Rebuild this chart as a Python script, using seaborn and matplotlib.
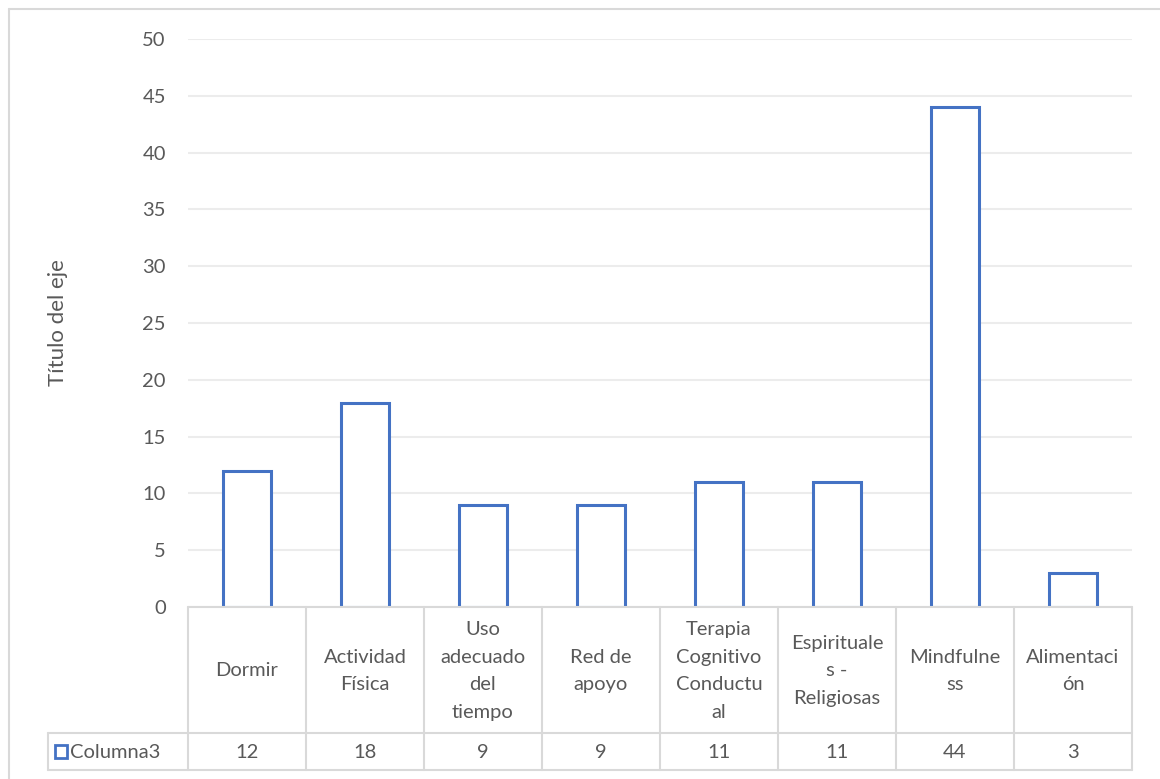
import matplotlib
matplotlib.use("Agg")
import matplotlib.pyplot as plt
import matplotlib.transforms as mtransforms
import seaborn as sns
import pandas as pd

# ---- data ----
categories = ["Dormir", "Actividad Física", "Uso adecuado del tiempo", "Red de apoyo",
              "Terapia Cognitivo Conductual", "Espirituales - Religiosas",
              "Mindfulness", "Alimentación"]
category_labels = ["Dormir", "Actividad\nFísica", "Uso\nadecuado\ndel\ntiempo", "Red de\napoyo",
                   "Terapia\nCognitivo\nConductu\nal", "Espirituale\ns -\nReligiosas",
                   "Mindfulne\nss", "Alimentaci\nón"]
values = [12, 18, 9, 9, 11, 11, 44, 3]
series_name = "Columna3"
y_label = "Título del eje"
y_ticks = [0, 5, 10, 15, 20, 25, 30, 35, 40, 45, 50]

df = pd.DataFrame({"categoria": categories, "valor": values})

sns.set_theme(style="white")
plt.rcParams["font.family"] = ["Lato", "DejaVu Sans"]

TEXT = "#595959"
GRID = "#ececec"
LINE = "#d9d9d9"
BLUE = "#4472C4"
FS = 14.5

W, H = 1160, 779
fig = plt.figure(figsize=(W / 100, H / 100), dpi=100)
fig.patch.set_facecolor("white")

# outer chart border (cropped on right/bottom)
fig.add_artist(plt.Line2D([9 / W, 9 / W], [0, 1 - 9 / H], transform=fig.transFigure,
                          color=LINE, lw=1.5))
fig.add_artist(plt.Line2D([9 / W, 1], [1 - 9 / H, 1 - 9 / H], transform=fig.transFigure,
                          color=LINE, lw=1.5))

left, right, top, bottom = 188, 1132, 39, 607
ax = fig.add_axes([left / W, 1 - bottom / H, (right - left) / W, (bottom - top) / H])

sns.barplot(data=df, x="categoria", y="valor", color="white", edgecolor=BLUE,
            linewidth=2.2, width=0.41, saturation=1, ax=ax, zorder=3)

ax.set_ylim(0, 50)
ax.set_xlim(-0.5, len(categories) - 0.5)
ax.set_yticks(y_ticks)
ax.set_yticklabels([str(t) for t in y_ticks], fontsize=FS, color=TEXT)
ax.tick_params(axis="y", length=0, pad=16)
ax.set_xticks([])
ax.set_xlabel("")
ax.set_ylabel(y_label, fontsize=16, color=TEXT, va="center")
ax.yaxis.set_label_coords((58 - left) / (right - left), 0.5)
ax.grid(axis="y", color=GRID, lw=1.5, zorder=0)
ax.set_axisbelow(True)
for s in ax.spines.values():
    s.set_visible(False)

# ---- data table ----
tr = mtransforms.blended_transform_factory(ax.transData, fig.transFigure)
def fy(py):
    return 1 - py / H

row1_bot, row2_bot = 733, 770
n = len(categories)
fig.add_artist(plt.Line2D([-0.5, n - 0.5], [fy(bottom), fy(bottom)], transform=tr,
                          color=LINE, lw=1.5, zorder=5))
fig.add_artist(plt.Line2D([48 / W, right / W], [fy(row1_bot), fy(row1_bot)],
                          transform=fig.transFigure, color=LINE, lw=1.5))
fig.add_artist(plt.Line2D([48 / W, right / W], [fy(row2_bot), fy(row2_bot)],
                          transform=fig.transFigure, color=LINE, lw=1.5))
fig.add_artist(plt.Line2D([48 / W, 48 / W], [fy(row1_bot), fy(row2_bot)],
                          transform=fig.transFigure, color=LINE, lw=1.5))
for i in range(n + 1):
    xb = i - 0.5
    fig.add_artist(plt.Line2D([xb, xb], [fy(bottom), fy(row2_bot)], transform=tr,
                              color=LINE, lw=1.5))

for i, (lab, v) in enumerate(zip(category_labels, values)):
    fig.text(i, fy((bottom + row1_bot) / 2 + 1), lab, transform=tr, ha="center", va="center",
             fontsize=FS, color=TEXT, linespacing=1.75)
    fig.text(i, fy((row1_bot + row2_bot) / 2 + 1), str(v), transform=tr, ha="center",
             va="center", fontsize=FS, color=TEXT)

# legend key + series name
fig.add_artist(plt.Rectangle((55 / W, fy(758)), 12 / W, 13 / H, transform=fig.transFigure,
                             facecolor="white", edgecolor=BLUE, lw=2))
fig.text(70 / W, fy(752), series_name, ha="left", va="center", fontsize=FS, color=TEXT)

fig.savefig("out.png", dpi=100, facecolor="white")
